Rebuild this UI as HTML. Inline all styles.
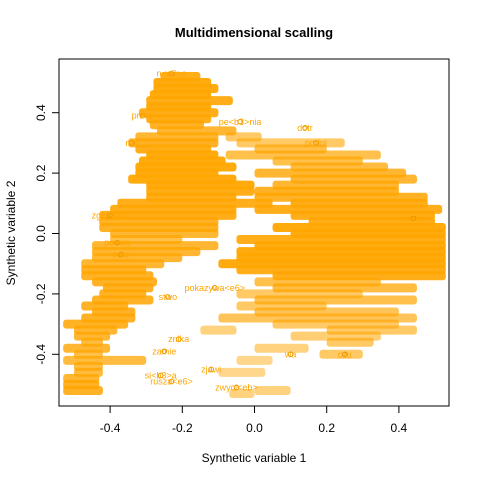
<!DOCTYPE html>
<html><head><meta charset="utf-8"><style>
body{margin:0;background:#fff}
svg text{font-family:"Liberation Sans",Arial,sans-serif}
</style></head><body>
<svg id="chart" width="480" height="480" viewBox="0 0 480 480">
<text x="254" y="37" text-anchor="middle" font-size="13" font-weight="bold">Multidimensional scalling</text>
<text x="254" y="462" text-anchor="middle" font-size="12">Synthetic variable 1</text>
<text transform="translate(15,233) rotate(-90)" text-anchor="middle" font-size="12">Synthetic variable 2</text>
<g id="marks"></g>
<rect x="59" y="59" width="390" height="347" fill="none" stroke="#000"/>
<g id="axes"></g>
</svg>
<script>
const rowY = [0.52,0.50,0.48,0.46,0.44,0.42,0.40,0.38,0.36,0.34,0.32,0.32,0.30,0.30,0.28,0.28,0.26,0.26,0.24,0.24,0.22,0.22,0.20,0.20,0.18,0.18,0.16,0.16,0.14,0.14,0.12,0.12,0.10,0.10,0.08,0.08,0.06,0.06,0.04,0.04,0.02,0.02,0.00,0.00,-0.02,-0.02,-0.04,-0.04,-0.06,-0.06,-0.08,-0.08,-0.10,-0.10,-0.12,-0.12,-0.14,-0.14,-0.16,-0.16,-0.18,-0.18,-0.20,-0.20,-0.22,-0.22,-0.24,-0.24,-0.26,-0.26,-0.28,-0.28,-0.30,-0.30,-0.32,-0.32,-0.32,-0.34,-0.34,-0.36,-0.36,-0.38,-0.38,-0.40,-0.40,-0.42,-0.42,-0.44,-0.46,-0.46,-0.48,-0.50,-0.52,-0.52,-0.53];
const rowX0 = [-0.26,-0.28,-0.28,-0.29,-0.30,-0.30,-0.32,-0.30,-0.29,-0.27,-0.33,-0.08,-0.35,-0.05,-0.33,0.00,-0.30,-0.08,-0.32,0.05,-0.33,0.10,-0.33,0.00,-0.35,0.10,-0.30,0.05,-0.30,0.00,-0.30,0.00,-0.38,0.10,-0.40,0.00,-0.43,0.10,-0.43,0.15,-0.43,0.05,-0.40,0.10,-0.40,-0.05,-0.45,0.00,-0.45,-0.05,-0.45,-0.05,-0.48,-0.10,-0.48,-0.05,-0.48,0.05,-0.45,0.00,-0.42,0.05,-0.43,-0.05,-0.45,0.00,-0.48,-0.05,-0.45,0.00,-0.48,-0.10,-0.53,0.05,-0.50,-0.15,0.20,-0.50,0.10,-0.48,0.20,-0.53,0.00,-0.50,0.18,-0.53,-0.05,-0.50,-0.50,-0.10,-0.53,-0.53,-0.53,0.00,-0.07];
const rowX1 = [-0.15,-0.12,-0.10,-0.12,-0.06,-0.12,-0.10,-0.12,-0.14,-0.05,-0.10,0.02,-0.10,0.25,-0.12,0.20,-0.10,0.35,-0.08,0.30,-0.05,0.37,-0.10,0.42,-0.05,0.45,0.00,0.40,0.00,0.40,-0.05,0.48,0.05,0.48,-0.05,0.52,-0.05,0.50,-0.10,0.50,-0.10,0.53,-0.10,0.53,-0.20,0.53,-0.10,0.53,-0.15,0.53,-0.20,0.53,-0.25,0.53,-0.30,0.53,-0.28,0.53,-0.27,0.35,-0.28,0.45,-0.30,0.30,-0.28,0.45,-0.35,0.20,-0.33,0.40,-0.33,0.45,-0.35,0.40,-0.38,-0.05,0.45,-0.40,0.35,-0.42,0.33,-0.40,0.15,-0.42,0.30,-0.30,0.05,-0.42,-0.42,0.03,-0.43,-0.43,-0.42,0.10,0.00];
const rowAlpha = [0.9,0.95,0.95,0.95,0.9,0.95,0.9,0.9,0.85,0.8,0.8,0.6,0.85,0.6,0.9,0.7,0.95,0.7,0.95,0.7,0.95,0.75,0.95,0.8,0.95,0.8,0.95,0.8,0.9,0.85,0.9,0.85,0.9,0.9,0.9,0.9,0.9,0.9,0.85,0.9,0.85,0.95,0.8,0.95,0.7,0.9,0.8,0.95,0.8,0.95,0.8,0.95,0.8,0.95,0.85,0.9,0.85,0.9,0.85,0.7,0.85,0.75,0.85,0.6,0.85,0.7,0.85,0.6,0.85,0.65,0.85,0.65,0.85,0.6,0.8,0.5,0.6,0.8,0.55,0.75,0.6,0.8,0.5,0.7,0.6,0.75,0.45,0.75,0.75,0.45,0.8,0.85,0.85,0.5,0.5];
const labelWords = ["n<e9>s","przez","roz","zgin<b6>","pozwa","odkr","pokazywa<e6>","znika","zamie","si<b3>a","rusza<e6>","zjawi","zwyci<eb>","dotr","blisko","wa","podni","czu","pe<b3>nia","stwo"];
const labelX = [-0.23,-0.31,-0.34,-0.40,-0.38,-0.37,-0.11,-0.21,-0.25,-0.26,-0.23,-0.12,-0.05,0.14,0.44,0.10,0.17,0.25,-0.04,-0.24];
const labelY = [0.53,0.39,0.30,0.06,-0.03,-0.07,-0.18,-0.35,-0.39,-0.47,-0.49,-0.45,-0.51,0.35,0.05,-0.40,0.30,-0.40,0.37,-0.21];
const xTicks = [-0.4,-0.2,0.0,0.2,0.4];
const yTicks = [-0.4,-0.2,0.0,0.2,0.4];
const xTickLabels = ["-0.4","-0.2","0.0","0.2","0.4"];
const yTickLabels = ["-0.4","-0.2","0.0","0.2","0.4"];

const NS="http://www.w3.org/2000/svg";
const L=59,R=449,T=59,B=406;
function sx(v){return 254.5+v*361;}
function sy(v){return 233.5-v*302;}
const marks=document.getElementById('marks');
for(let i=0;i<rowY.length;i++){
  const r=document.createElementNS(NS,'rect');
  const a=Math.max(L,sx(rowX0[i])), b=Math.min(R,sx(rowX1[i]));
  r.setAttribute('x',a);r.setAttribute('y',sy(rowY[i])-4.5);
  r.setAttribute('width',Math.max(0,b-a));r.setAttribute('height',9);
  r.setAttribute('rx',3);
  r.setAttribute('fill','#ffa500');r.setAttribute('opacity',rowAlpha[i]);
  
  
  marks.appendChild(r);
}
for(let i=0;i<labelWords.length;i++){
  const c=document.createElementNS(NS,'circle');
  c.setAttribute('cx',sx(labelX[i]));c.setAttribute('cy',sy(labelY[i]));c.setAttribute('r',2.3);
  c.setAttribute('fill','none');c.setAttribute('stroke','#e69500');
  
  
  marks.appendChild(c);
  const t=document.createElementNS(NS,'text');
  t.setAttribute('x',sx(labelX[i]));t.setAttribute('y',sy(labelY[i])+3);
  t.setAttribute('font-size','9');t.setAttribute('fill','#ffa500');t.setAttribute('text-anchor','middle');
  t.textContent=labelWords[i];
  
  
  marks.appendChild(t);
}
const axes=document.getElementById('axes');
function line(x1,y1,x2,y2,name){const l=document.createElementNS(NS,'line');l.setAttribute('x1',x1);l.setAttribute('y1',y1);l.setAttribute('x2',x2);l.setAttribute('y2',y2);l.setAttribute('stroke','#000');


axes.appendChild(l);}
line(sx(xTicks[0]),B,sx(xTicks[xTicks.length-1]),B,'x-axis-line');
xTicks.forEach((v,i)=>{line(sx(v),B,sx(v),B+7,'x-tick');
  const t=document.createElementNS(NS,'text');t.setAttribute('x',sx(v));t.setAttribute('y',B+26);t.setAttribute('font-size','12');t.setAttribute('text-anchor','middle');t.textContent=xTickLabels[i];
  
  
  axes.appendChild(t);});
line(L,sy(yTicks[0]),L,sy(yTicks[yTicks.length-1]),'y-axis-line');
yTicks.forEach((v,i)=>{line(L-7,sy(v),L,sy(v),'y-tick');
  const t=document.createElementNS(NS,'text');t.setAttribute('transform','translate('+(L-14)+','+sy(v)+') rotate(-90)');t.setAttribute('font-size','12');t.setAttribute('text-anchor','middle');t.textContent=yTickLabels[i];
  
  
  axes.appendChild(t);});
</script>
</body></html>
